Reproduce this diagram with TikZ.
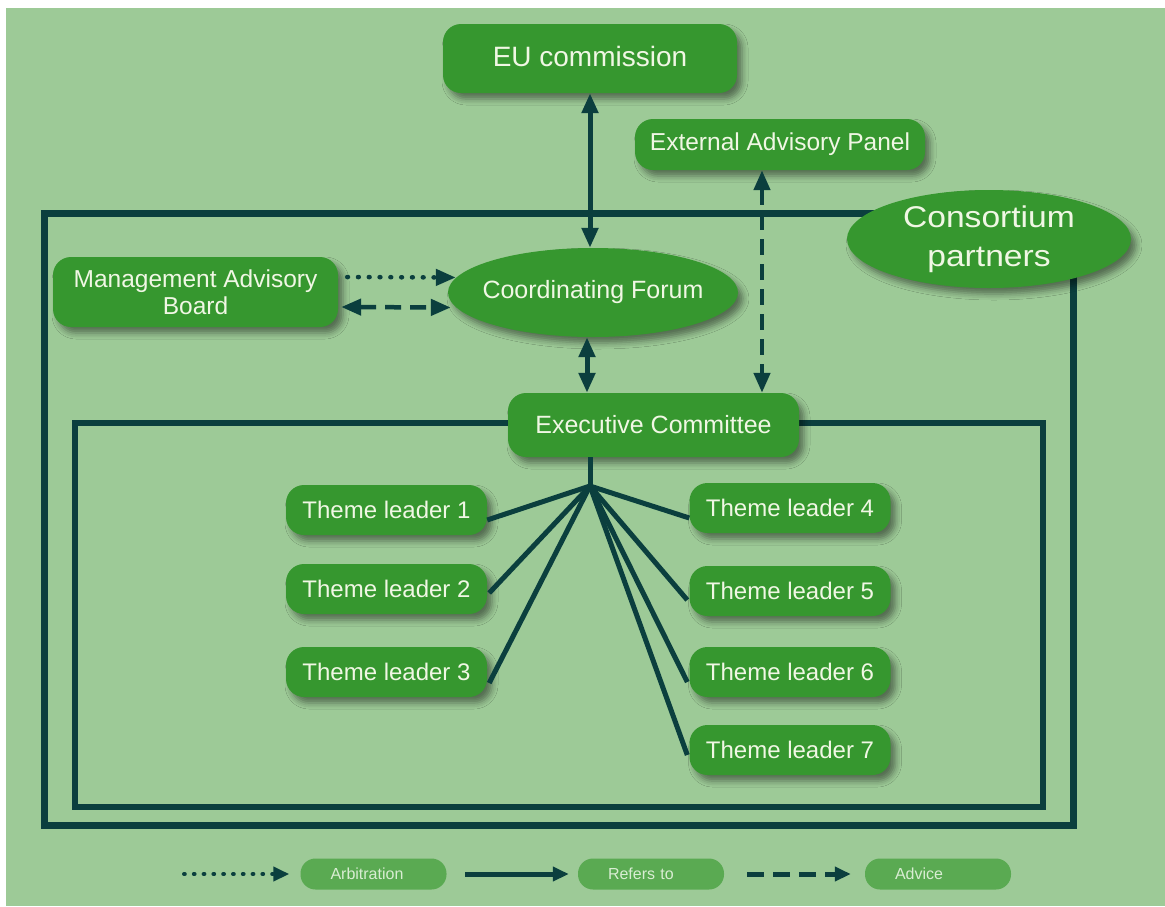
\documentclass[tikz,border=0pt]{standalone}
\usepackage{fontspec}
\usepackage{graphicx}
\setmainfont{Liberation Sans}
\usetikzlibrary{arrows.meta,shapes.geometric,shadows.blur,calc,backgrounds}
\definecolor{bgg}{HTML}{9DCA97}
\definecolor{nodeg}{HTML}{36972F}
\definecolor{pillg}{HTML}{5AAA52}
\definecolor{darkl}{HTML}{0B3F3E}
\definecolor{txtw}{HTML}{F0F7E4}
\definecolor{pilltxt}{HTML}{D9EDD3}
\begin{document}
\begin{tikzpicture}[x=1pt,y=-1pt,
  shad/.style={blur shadow={shadow xshift=5pt,shadow yshift=-6pt,shadow blur radius=6pt,shadow opacity=45}},
  box/.style={shad,fill=nodeg,rounded corners=18pt,text=txtw,inner sep=0pt,align=center,
    font=\fontsize{24.5}{27}\selectfont},
  ell/.style={shad,ellipse,fill=nodeg,text=txtw,inner sep=0pt,align=center},
  tl/.style={box,minimum width=201pt,minimum height=50pt,font=\fontsize{24}{28}\selectfont},
  pill/.style={fill=pillg,rounded corners=15pt,minimum width=146pt,minimum height=31pt,
    inner xsep=30pt,inner ysep=0pt,text width=86pt,align=left,text=pilltxt,
    font=\fontsize{16}{18}\selectfont},
  frame/.style={draw=darkl,line width=7pt},
  conn/.style={draw=darkl,line width=5pt},
  dotline/.style={line width=4.5pt,dash pattern=on 0.8pt off 10pt,line cap=round},
  dashline/.style={dash pattern=on 16pt off 9pt},
  tipe/.style={-{Triangle[length=20pt,width=16pt]}},
  tipb/.style={{Triangle[length=20pt,width=16pt]}-{Triangle[length=20pt,width=16pt]}},
  ltip/.style={-{Triangle[length=16pt,width=14pt]}}
]
\useasboundingbox (0,0) rectangle (1165,906);

% nodes
\node[box,minimum width=294pt,minimum height=69pt,font=\fontsize{28}{32}\selectfont] (eu) at (590,58.5) {\raisebox{5pt}{EU commission}};
\node[box,minimum width=290pt,minimum height=51pt] (eap) at (780,144.5) {External Advisory Panel};
\node[box,minimum width=285pt,minimum height=70pt] (mab) at (195.5,292) {Management Advisory\\Board};
\node[ell,minimum width=290pt,minimum height=89pt,font=\fontsize{25}{28}\selectfont] (cf) at (593,292.5) {\makebox[0pt]{\raisebox{4pt}{Coordinating Forum}}};
\node[ell,minimum width=284pt,minimum height=98pt,font=\fontsize{30}{38.5}\selectfont] (cp) at (989,239) {\makebox[0pt]{\scalebox{1.12}[1]{Consortium}}\\\makebox[0pt]{\scalebox{1.12}[1]{partners}}};
\node[box,minimum width=291pt,minimum height=64pt,font=\fontsize{25}{28}\selectfont] (exec) at (653.5,425) {Executive Committee};

\node[tl] (tl1) at (386.5,510) {Theme leader 1};
\node[tl] (tl2) at (386.5,589) {Theme leader 2};
\node[tl] (tl3) at (386.5,672) {Theme leader 3};
\node[tl] (tl4) at (790,508) {Theme leader 4};
\node[tl] (tl5) at (790,591) {Theme leader 5};
\node[tl] (tl6) at (790,672) {Theme leader 6};
\node[tl] (tl7) at (790,750) {Theme leader 7};

\node[pill] (arb) at (373.5,874) {Arbitration};
\node[pill] (ref) at (651,874) {Refers to};
\node[pill] (adv) at (938,874) {Advice};

% background and frames
\begin{scope}[on background layer]
  \fill[white] (0,0) rectangle (1165,906);
  \fill[bgg] (6,8) rectangle (1165,906);
  \draw[frame] (44,213) rectangle (1073,825);
  \draw[frame,line width=6.5pt] (75,423) rectangle (1043,807);
\end{scope}

% connectors
\draw[conn,tipb] (eu.south) -- (eu.south |- cf.north);
\coordinate (ax) at (762,0);
\draw[conn,line width=4.5pt,dashline,tipb] (eap.south -| ax) -- (exec.north -| ax);
\coordinate (cfx) at ($(cf.south)+(-6,0)$);
\draw[conn,tipb] (cfx) -- (cfx |- exec.north);
\draw[conn,dotline,tipe] ($(mab.east)+(9,-15)$) -- ($(cf.west)+(8,-15)$);
\draw[conn,line width=4.5pt,dashline,tipb] ($(mab.east)+(3,15)$) -- ($(cf.west)+(3,15)$);

\coordinate (fan) at (590,486);
\draw[conn] (fan |- exec.south) -- (fan);
\draw[conn] (fan) -- ($(tl1.east)+(0,10)$);
\draw[conn] (fan) -- ($(tl2.east)+(2,4)$);
\draw[conn] (fan) -- ($(tl3.east)+(2,11)$);
\draw[conn] (fan) -- ($(tl4.west)+(0,10)$);
\draw[conn] (fan) -- ($(tl5.west)+(-2,9)$);
\draw[conn] (fan) -- ($(tl6.west)+(-2,10)$);
\draw[conn] (fan) -- ($(tl7.west)+(-2,5)$);

% legend
\coordinate (l1) at (184,874);
\coordinate (l2) at (465,874);
\coordinate (l3) at (747,874);
\draw[conn,dotline,line width=4pt,dash pattern=on 0.8pt off 9pt,ltip] (l1) -- ($(arb.west)+(-11,0)$);
\draw[conn,ltip] (l2) -- ($(ref.west)+(-9,0)$);
\draw[conn,dashline,dash pattern=on 17pt off 9pt,ltip] (l3) -- ($(adv.west)+(-14,0)$);
\end{tikzpicture}
\end{document}
